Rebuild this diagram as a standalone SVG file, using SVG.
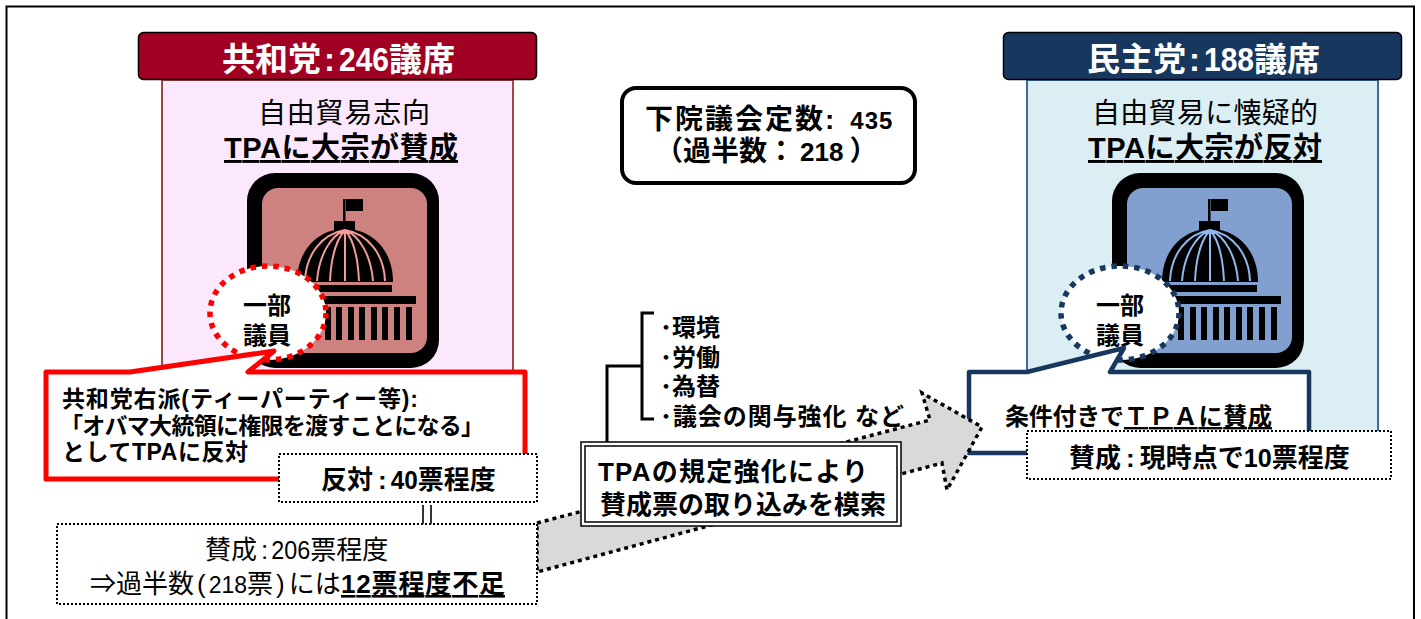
<svg xmlns="http://www.w3.org/2000/svg" xmlns:xlink="http://www.w3.org/1999/xlink" width="1421" height="619" viewBox="0 0 1421 619">
<style>
text{font-family:"Liberation Sans","Noto Sans CJK JP",sans-serif;fill:#000}
.b{font-weight:700}
.h{font-size:33px;font-weight:700;fill:#fff}
.dot{fill:#fff;stroke:#000;stroke-width:2;stroke-dasharray:2 2}
.head{stroke:#000;stroke-width:1.5}
.u{text-decoration:underline}
.t29{font-size:29px}
.t28{font-size:28px}
.t26{font-size:26px}
.t24{font-size:24px}
.t23{font-size:23px}
</style>
<defs>
<g id="capitol">
<rect x="343" y="199" width="2.5" height="24"/>
<rect x="346" y="199" width="17" height="12"/>
<rect x="334" y="221" width="21" height="9"/>
<path d="M297 282C297 250 318 229 345 229C372 229 393 250 393 282Z"/>
<rect x="298" y="285" width="94" height="7"/>
<rect x="274" y="296" width="142" height="8"/>
<path d="M278 307h6v33h-6zM290 307h6v33h-6zM301 307h6v33h-6zM313 307h6v33h-6zM325 307h6v33h-6zM336 307h6v33h-6zM348 307h6v33h-6zM359 307h6v33h-6zM371 307h6v33h-6zM382 307h6v33h-6zM394 307h6v33h-6zM406 307h6v33h-6z"/>
</g>
<path id="ribs" fill="none" stroke-width="2" d="M345 230L345 281M345 230C336 240 331 260 330 281M345 230C330 236 319 256 317 281M345 230C322 234 306 254 305 281M345 230C354 240 358 260 359 281M345 230C360 236 371 256 373 281M345 230C368 234 384 254 385 281"/>
</defs>
<rect width="1421" height="619" fill="#fff"/>
<path id="frame" d="M6.500 619V6.500H1414V619" fill="none" stroke="#000" stroke-width="2"/>

<g id="republican-panel">
<rect x="162" y="80" width="351" height="295" fill="#fce8fc" stroke="#a04848" stroke-width="2"/>
<text class="t28" x="258" y="123" textLength="172">自由貿易志向</text>
<text class="t29 b u" x="224" y="158" textLength="234">TPAに大宗が賛成</text>
</g>
<g id="republican-icon">
<rect x="247" y="173" width="192" height="195" rx="28" fill="#000"/>
<rect x="262" y="188" width="165" height="165" rx="16" fill="#ce8280"/>
<use xlink:href="#capitol" href="#capitol"/>
<use xlink:href="#ribs" href="#ribs" stroke="#f29b98"/>
</g>
<g id="republican-bubble">
<ellipse cx="268" cy="313" rx="58" ry="47" fill="#fff" stroke="#f00" stroke-width="5.5" stroke-dasharray="5.5 6"/>
<text class="t24 b" x="243" y="314" textLength="48">一部</text>
<text class="t24 b" x="243" y="344" textLength="48">議員</text>
</g>
<g id="republican-callout">
<path d="M46 372H130L274 351L248 372H525V479H46Z" fill="#fff" stroke="#f00" stroke-width="5" stroke-linejoin="round"/>
<text class="t23 b" x="62" y="407" textLength="356">共和党右派(ティーパーティー等):</text>
<text class="t23 b" x="60" y="434" textLength="424">「オバマ大統領に権限を渡すことになる」</text>
<text class="t23 b" x="62" y="460" textLength="186">としてTPAに反対</text>
</g>

<g id="democrat-panel">
<rect x="1027" y="80" width="351" height="355" fill="#daeef3" stroke="#3f6a9e" stroke-width="2"/>
<text class="t28" x="1092" y="123" textLength="226">自由貿易に懐疑的</text>
<text class="t29 b u" x="1088" y="158" textLength="234">TPAに大宗が反対</text>
</g>
<g id="democrat-icon">
<rect x="1112" y="173" width="192" height="195" rx="28" fill="#000"/>
<rect x="1127" y="188" width="165" height="165" rx="16" fill="#819fcf"/>
<g transform="translate(865 0)"><use xlink:href="#capitol" href="#capitol"/>
<use xlink:href="#ribs" href="#ribs" stroke="#8fb8ee"/></g>
</g>
<g id="democrat-bubble">
<ellipse cx="1120" cy="313" rx="59" ry="47" fill="#fff" stroke="#17375e" stroke-width="5.5" stroke-dasharray="5.5 6"/>
<text class="t24 b" x="1096" y="314" textLength="48">一部</text>
<text class="t24 b" x="1096" y="344" textLength="48">議員</text>
</g>
<g id="democrat-callout">
<path d="M969 372H1027L1124 348L1110 372H1309V453H969Z" fill="#fff" stroke="#17375e" stroke-width="4.5" stroke-linejoin="round"/>
<text class="t24 b" x="1005" y="425" textLength="119">条件付きで</text>
<text class="t24 b u" x="1124" y="425" textLength="148">ＴＰＡに賛成</text>
</g>

<g id="connectors">
<path d="M537 523L930 420L922 393L982 427L947 490L942 463L537 572Z" fill="#d9d9d9" stroke="#000" stroke-width="3.5" stroke-dasharray="4 4"/>
<path d="M654 313H642V419H654M642 366H607V445" fill="none" stroke="#000" stroke-width="3"/>
<path d="M423 505V526M431 505V526" fill="none" stroke="#333" stroke-width="2"/>
</g>

<g id="republican-header">
<rect class="head" x="138.500" y="32.500" width="398" height="47" rx="5" fill="#a20023"/>
<text class="h" x="222" y="71">共和党<tspan dx="3">:</tspan><tspan dx="4" textLength="50" lengthAdjust="spacingAndGlyphs">246</tspan>議席</text>
</g>
<g id="democrat-header">
<rect class="head" x="1003.500" y="32.500" width="398" height="47" rx="5" fill="#17375e"/>
<text class="h" x="1087" y="71">民主党<tspan dx="3">:</tspan><tspan dx="4" textLength="50" lengthAdjust="spacingAndGlyphs">188</tspan>議席</text>
</g>
<g id="quorum">
<rect x="622" y="88" width="293" height="95" rx="14" fill="#fff" stroke="#000" stroke-width="4"/>
<text class="t28 b" x="645" y="129" letter-spacing="2">下院議会定数<tspan dx="0">:</tspan><tspan class="t24" dx="14" letter-spacing="1">435</tspan></text>
<text class="t28 b" x="655" y="161">（過半数：<tspan class="t26" dx="5">218</tspan><tspan dx="6">）</tspan></text>
</g>
<g id="issues">
<text class="t24 b" x="660" y="336">･環境</text>
<text class="t24 b" x="660" y="366">･労働</text>
<text class="t24 b" x="660" y="395">･為替</text>
<text class="t24 b" x="660" y="425" textLength="244">･議会の関与強化  など</text>
</g>
<g id="strategy">
<rect x="581" y="442" width="320" height="84" fill="#fff" stroke="#000" stroke-width="1.500"/>
<rect x="585" y="446" width="312" height="76" fill="#fff" stroke="#000" stroke-width="1.500"/>
<text class="t26 b" x="598" y="481" textLength="270">TPAの規定強化により</text>
<text class="t26 b" x="600" y="514" textLength="286">賛成票の取り込みを模索</text>
</g>
<g id="oppose-box">
<rect class="dot" x="279" y="454" width="258" height="48"/>
<text class="t26 b" x="321" y="489">反対<tspan dx="5">:</tspan><tspan dx="4" textLength="27" lengthAdjust="spacingAndGlyphs">40</tspan>票程度</text>
</g>
<g id="support-box">
<rect class="dot" x="57" y="524" width="480" height="80"/>
<text class="t26" x="205" y="559">賛成<tspan dx="4">:</tspan><tspan dx="3" textLength="39" lengthAdjust="spacingAndGlyphs">206</tspan>票程度</text>
<text class="t26" x="90" y="593">⇒過半数<tspan dx="3">(</tspan><tspan dx="3" style="font-size:23px">218</tspan>票<tspan dx="3">)</tspan><tspan dx="4">には</tspan></text>
<text class="t26 b u" x="341" y="593" textLength="164">12票程度不足</text>
</g>
<g id="democrat-vote-box">
<rect class="dot" x="1027" y="431" width="364" height="48"/>
<text class="t26 b" x="1069" y="467">賛成<tspan dx="5">:</tspan><tspan dx="5">現時点で</tspan><tspan textLength="28" lengthAdjust="spacingAndGlyphs">10</tspan>票程度</text>
</g>
</svg>
